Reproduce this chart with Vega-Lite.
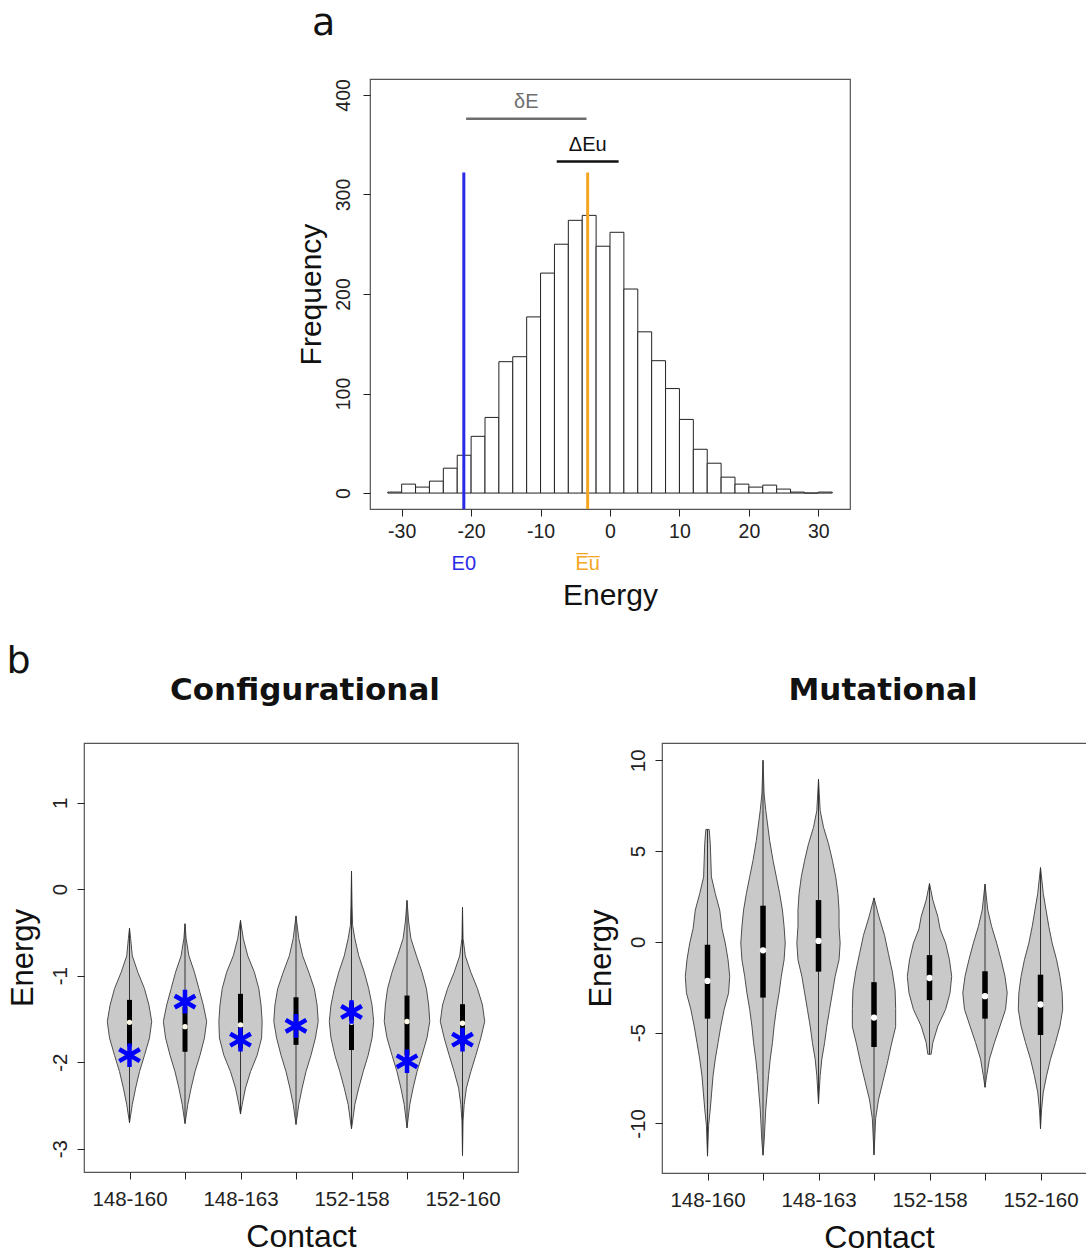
{
  "$schema": "https://vega.github.io/schema/vega-lite/v6.json",
  "background": "white",
  "padding": {"left": 6, "top": 4, "right": 0, "bottom": 0},
  "config": {
    "font": "Liberation Sans",
    "view": {"stroke": "#555", "strokeWidth": 1.2},
    "axis": {"grid": false, "domain": false, "tickColor": "#222", "tickSize": 7, "tickWidth": 1, "labelColor": "#222", "titleColor": "#111", "labelFont": "Liberation Sans", "titleFont": "Liberation Sans", "titleFontWeight": "normal", "labelOverlap": false, "labelFlush": false},
    "title": {"color": "#111"}
  },
  "datasets": {
    "hist": [
      {"lo": -32, "hi": -30, "count": 1}, {"lo": -30, "hi": -28, "count": 9}, {"lo": -28, "hi": -26, "count": 6}, {"lo": -26, "hi": -24, "count": 12},
      {"lo": -24, "hi": -22, "count": 25}, {"lo": -22, "hi": -20, "count": 38}, {"lo": -20, "hi": -18, "count": 57}, {"lo": -18, "hi": -16, "count": 76},
      {"lo": -16, "hi": -14, "count": 132}, {"lo": -14, "hi": -12, "count": 137}, {"lo": -12, "hi": -10, "count": 177}, {"lo": -10, "hi": -8, "count": 221},
      {"lo": -8, "hi": -6, "count": 250}, {"lo": -6, "hi": -4, "count": 274}, {"lo": -4, "hi": -2, "count": 279}, {"lo": -2, "hi": 0, "count": 248},
      {"lo": 0, "hi": 2, "count": 262}, {"lo": 2, "hi": 4, "count": 205}, {"lo": 4, "hi": 6, "count": 162}, {"lo": 6, "hi": 8, "count": 133},
      {"lo": 8, "hi": 10, "count": 105}, {"lo": 10, "hi": 12, "count": 74}, {"lo": 12, "hi": 14, "count": 44}, {"lo": 14, "hi": 16, "count": 30},
      {"lo": 16, "hi": 18, "count": 16}, {"lo": 18, "hi": 20, "count": 9}, {"lo": 20, "hi": 22, "count": 6}, {"lo": 22, "hi": 24, "count": 8},
      {"lo": 24, "hi": 26, "count": 4}, {"lo": 26, "hi": 28, "count": 1}, {"lo": 28, "hi": 30, "count": 0}, {"lo": 30, "hi": 32, "count": 1}
    ],
    "refs": [
      {"name": "E0", "label": "E0", "energy": -21.05},
      {"name": "Eu", "label": "E\u0305u\u0305", "energy": -3.22}
    ],
    "spans": [
      {"name": "δE", "from": -20.72, "to": -3.38, "level": 376},
      {"name": "ΔEu", "from": -7.67, "to": 1.24, "level": 333}
    ],
    "vcfg": [
      {"i": 1, "e": -0.45, "d": 0}, {"i": 1, "e": -0.57, "d": 0.02}, {"i": 1, "e": -0.77, "d": 0.05}, {"i": 1, "e": -0.96, "d": 0.15}, {"i": 1, "e": -1.15, "d": 0.27}, {"i": 1, "e": -1.34, "d": 0.35}, {"i": 1, "e": -1.53, "d": 0.40}, {"i": 1, "e": -1.72, "d": 0.36}, {"i": 1, "e": -1.92, "d": 0.27}, {"i": 1, "e": -2.11, "d": 0.18}, {"i": 1, "e": -2.30, "d": 0.11}, {"i": 1, "e": -2.49, "d": 0.05}, {"i": 1, "e": -2.70, "d": 0},
      {"i": 2, "e": -0.40, "d": 0}, {"i": 2, "e": -0.57, "d": 0.02}, {"i": 2, "e": -0.77, "d": 0.07}, {"i": 2, "e": -0.96, "d": 0.17}, {"i": 2, "e": -1.15, "d": 0.25}, {"i": 2, "e": -1.34, "d": 0.33}, {"i": 2, "e": -1.53, "d": 0.39}, {"i": 2, "e": -1.72, "d": 0.35}, {"i": 2, "e": -1.92, "d": 0.27}, {"i": 2, "e": -2.11, "d": 0.18}, {"i": 2, "e": -2.30, "d": 0.11}, {"i": 2, "e": -2.49, "d": 0.05}, {"i": 2, "e": -2.71, "d": 0},
      {"i": 3, "e": -0.36, "d": 0}, {"i": 3, "e": -0.57, "d": 0.05}, {"i": 3, "e": -0.77, "d": 0.13}, {"i": 3, "e": -0.96, "d": 0.25}, {"i": 3, "e": -1.15, "d": 0.33}, {"i": 3, "e": -1.34, "d": 0.37}, {"i": 3, "e": -1.53, "d": 0.39}, {"i": 3, "e": -1.72, "d": 0.38}, {"i": 3, "e": -1.92, "d": 0.30}, {"i": 3, "e": -2.11, "d": 0.18}, {"i": 3, "e": -2.30, "d": 0.09}, {"i": 3, "e": -2.49, "d": 0.03}, {"i": 3, "e": -2.60, "d": 0},
      {"i": 4, "e": -0.31, "d": 0}, {"i": 4, "e": -0.57, "d": 0.05}, {"i": 4, "e": -0.77, "d": 0.12}, {"i": 4, "e": -0.96, "d": 0.23}, {"i": 4, "e": -1.15, "d": 0.33}, {"i": 4, "e": -1.34, "d": 0.38}, {"i": 4, "e": -1.53, "d": 0.40}, {"i": 4, "e": -1.72, "d": 0.35}, {"i": 4, "e": -1.92, "d": 0.27}, {"i": 4, "e": -2.11, "d": 0.18}, {"i": 4, "e": -2.30, "d": 0.11}, {"i": 4, "e": -2.49, "d": 0.05}, {"i": 4, "e": -2.72, "d": 0},
      {"i": 5, "e": 0.21, "d": 0}, {"i": 5, "e": -0.19, "d": 0.01}, {"i": 5, "e": -0.42, "d": 0.02}, {"i": 5, "e": -0.57, "d": 0.06}, {"i": 5, "e": -0.77, "d": 0.13}, {"i": 5, "e": -0.96, "d": 0.23}, {"i": 5, "e": -1.15, "d": 0.31}, {"i": 5, "e": -1.34, "d": 0.37}, {"i": 5, "e": -1.53, "d": 0.40}, {"i": 5, "e": -1.72, "d": 0.37}, {"i": 5, "e": -1.92, "d": 0.30}, {"i": 5, "e": -2.11, "d": 0.21}, {"i": 5, "e": -2.30, "d": 0.13}, {"i": 5, "e": -2.49, "d": 0.06}, {"i": 5, "e": -2.68, "d": 0.02}, {"i": 5, "e": -2.77, "d": 0},
      {"i": 6, "e": -0.13, "d": 0}, {"i": 6, "e": -0.38, "d": 0.03}, {"i": 6, "e": -0.57, "d": 0.07}, {"i": 6, "e": -0.77, "d": 0.17}, {"i": 6, "e": -0.96, "d": 0.27}, {"i": 6, "e": -1.15, "d": 0.35}, {"i": 6, "e": -1.34, "d": 0.39}, {"i": 6, "e": -1.53, "d": 0.41}, {"i": 6, "e": -1.72, "d": 0.36}, {"i": 6, "e": -1.92, "d": 0.27}, {"i": 6, "e": -2.11, "d": 0.18}, {"i": 6, "e": -2.30, "d": 0.11}, {"i": 6, "e": -2.49, "d": 0.05}, {"i": 6, "e": -2.76, "d": 0},
      {"i": 7, "e": -0.21, "d": 0}, {"i": 7, "e": -0.57, "d": 0.01}, {"i": 7, "e": -0.77, "d": 0.05}, {"i": 7, "e": -0.96, "d": 0.15}, {"i": 7, "e": -1.15, "d": 0.27}, {"i": 7, "e": -1.34, "d": 0.36}, {"i": 7, "e": -1.53, "d": 0.40}, {"i": 7, "e": -1.72, "d": 0.33}, {"i": 7, "e": -1.92, "d": 0.24}, {"i": 7, "e": -2.11, "d": 0.15}, {"i": 7, "e": -2.30, "d": 0.07}, {"i": 7, "e": -2.49, "d": 0.03}, {"i": 7, "e": -2.68, "d": 0.01}, {"i": 7, "e": -3.08, "d": 0}
    ],
    "bcfg": [
      {"i": 1, "min": -2.70, "q1": -1.82, "med": -1.54, "q3": -1.28, "max": -0.45, "native": -1.92},
      {"i": 2, "min": -2.71, "q1": -1.88, "med": -1.59, "q3": -1.36, "max": -0.40, "native": -1.30},
      {"i": 3, "min": -2.60, "q1": -1.84, "med": -1.57, "q3": -1.21, "max": -0.36, "native": -1.74},
      {"i": 4, "min": -2.72, "q1": -1.80, "med": -1.57, "q3": -1.25, "max": -0.31, "native": -1.58},
      {"i": 5, "min": -2.77, "q1": -1.86, "med": -1.54, "q3": -1.31, "max": 0.21, "native": -1.42},
      {"i": 6, "min": -2.76, "q1": -1.92, "med": -1.53, "q3": -1.23, "max": -0.13, "native": -1.99},
      {"i": 7, "min": -3.08, "q1": -1.81, "med": -1.55, "q3": -1.33, "max": -0.21, "native": -1.74}
    ],
    "vmut": [
      {"i": 1, "e": 6.19, "d": 0.03}, {"i": 1, "e": 5.4, "d": 0.05}, {"i": 1, "e": 3.58, "d": 0.07}, {"i": 1, "e": 2.66, "d": 0.14}, {"i": 1, "e": 1.75, "d": 0.22}, {"i": 1, "e": 0.73, "d": 0.26}, {"i": 1, "e": -0.07, "d": 0.32}, {"i": 1, "e": -0.99, "d": 0.37}, {"i": 1, "e": -1.9, "d": 0.40}, {"i": 1, "e": -2.81, "d": 0.38}, {"i": 1, "e": -3.72, "d": 0.30}, {"i": 1, "e": -4.64, "d": 0.24}, {"i": 1, "e": -5.55, "d": 0.19}, {"i": 1, "e": -6.46, "d": 0.14}, {"i": 1, "e": -7.37, "d": 0.10}, {"i": 1, "e": -9.2, "d": 0.05}, {"i": 1, "e": -10.1, "d": 0.02}, {"i": 1, "e": -11.8, "d": 0},
      {"i": 2, "e": 10.0, "d": 0}, {"i": 2, "e": 8.14, "d": 0.02}, {"i": 2, "e": 7.23, "d": 0.05}, {"i": 2, "e": 5.58, "d": 0.12}, {"i": 2, "e": 4.49, "d": 0.18}, {"i": 2, "e": 3.58, "d": 0.24}, {"i": 2, "e": 2.66, "d": 0.30}, {"i": 2, "e": 1.75, "d": 0.35}, {"i": 2, "e": 0.84, "d": 0.38}, {"i": 2, "e": -0.07, "d": 0.40}, {"i": 2, "e": -0.99, "d": 0.38}, {"i": 2, "e": -1.9, "d": 0.33}, {"i": 2, "e": -2.81, "d": 0.29}, {"i": 2, "e": -3.72, "d": 0.24}, {"i": 2, "e": -4.64, "d": 0.20}, {"i": 2, "e": -5.55, "d": 0.17}, {"i": 2, "e": -6.46, "d": 0.13}, {"i": 2, "e": -7.37, "d": 0.10}, {"i": 2, "e": -9.2, "d": 0.05}, {"i": 2, "e": -11.0, "d": 0.02}, {"i": 2, "e": -11.75, "d": 0},
      {"i": 3, "e": 8.96, "d": 0}, {"i": 3, "e": 7.23, "d": 0.03}, {"i": 3, "e": 6.31, "d": 0.09}, {"i": 3, "e": 5.4, "d": 0.18}, {"i": 3, "e": 4.49, "d": 0.25}, {"i": 3, "e": 3.58, "d": 0.31}, {"i": 3, "e": 2.66, "d": 0.35}, {"i": 3, "e": 1.75, "d": 0.37}, {"i": 3, "e": 0.84, "d": 0.37}, {"i": 3, "e": -0.07, "d": 0.39}, {"i": 3, "e": -0.99, "d": 0.37}, {"i": 3, "e": -1.9, "d": 0.30}, {"i": 3, "e": -2.81, "d": 0.25}, {"i": 3, "e": -3.72, "d": 0.20}, {"i": 3, "e": -4.64, "d": 0.15}, {"i": 3, "e": -5.55, "d": 0.11}, {"i": 3, "e": -6.46, "d": 0.06}, {"i": 3, "e": -7.37, "d": 0.03}, {"i": 3, "e": -8.92, "d": 0},
      {"i": 4, "e": 2.42, "d": 0}, {"i": 4, "e": 1.37, "d": 0.09}, {"i": 4, "e": 0.36, "d": 0.19}, {"i": 4, "e": -0.65, "d": 0.26}, {"i": 4, "e": -1.65, "d": 0.33}, {"i": 4, "e": -2.66, "d": 0.38}, {"i": 4, "e": -3.67, "d": 0.39}, {"i": 4, "e": -4.68, "d": 0.39}, {"i": 4, "e": -5.69, "d": 0.31}, {"i": 4, "e": -6.69, "d": 0.24}, {"i": 4, "e": -7.7, "d": 0.16}, {"i": 4, "e": -8.71, "d": 0.08}, {"i": 4, "e": -9.72, "d": 0.03}, {"i": 4, "e": -11.73, "d": 0},
      {"i": 5, "e": 3.21, "d": 0}, {"i": 5, "e": 2.3, "d": 0.06}, {"i": 5, "e": 1.39, "d": 0.15}, {"i": 5, "e": 0.71, "d": 0.19}, {"i": 5, "e": -0.07, "d": 0.29}, {"i": 5, "e": -0.99, "d": 0.36}, {"i": 5, "e": -1.9, "d": 0.40}, {"i": 5, "e": -2.81, "d": 0.37}, {"i": 5, "e": -3.72, "d": 0.29}, {"i": 5, "e": -4.64, "d": 0.15}, {"i": 5, "e": -5.55, "d": 0.06}, {"i": 5, "e": -6.19, "d": 0.03},
      {"i": 6, "e": 3.18, "d": 0}, {"i": 6, "e": 1.75, "d": 0.05}, {"i": 6, "e": 0.84, "d": 0.12}, {"i": 6, "e": -0.07, "d": 0.21}, {"i": 6, "e": -0.99, "d": 0.29}, {"i": 6, "e": -1.9, "d": 0.36}, {"i": 6, "e": -2.81, "d": 0.40}, {"i": 6, "e": -3.72, "d": 0.37}, {"i": 6, "e": -4.64, "d": 0.27}, {"i": 6, "e": -5.55, "d": 0.17}, {"i": 6, "e": -6.46, "d": 0.08}, {"i": 6, "e": -7.37, "d": 0.03}, {"i": 6, "e": -8.01, "d": 0},
      {"i": 7, "e": 4.09, "d": 0}, {"i": 7, "e": 2.66, "d": 0.05}, {"i": 7, "e": 0.84, "d": 0.15}, {"i": 7, "e": -0.07, "d": 0.21}, {"i": 7, "e": -0.99, "d": 0.29}, {"i": 7, "e": -1.9, "d": 0.35}, {"i": 7, "e": -2.81, "d": 0.39}, {"i": 7, "e": -3.72, "d": 0.40}, {"i": 7, "e": -4.64, "d": 0.35}, {"i": 7, "e": -5.55, "d": 0.27}, {"i": 7, "e": -6.46, "d": 0.18}, {"i": 7, "e": -7.37, "d": 0.11}, {"i": 7, "e": -8.28, "d": 0.05}, {"i": 7, "e": -9.2, "d": 0.02}, {"i": 7, "e": -10.29, "d": 0}
    ],
    "bmut": [
      {"i": 1, "min": -11.8, "q1": -4.23, "med": -2.15, "q3": -0.16, "max": 6.19},
      {"i": 2, "min": -11.75, "q1": -3.07, "med": -0.47, "q3": 1.99, "max": 10.0},
      {"i": 3, "min": -8.92, "q1": -1.64, "med": 0.05, "q3": 2.3, "max": 8.96},
      {"i": 4, "min": -11.73, "q1": -5.79, "med": -4.17, "q3": -2.22, "max": 2.42},
      {"i": 5, "min": -6.19, "q1": -3.21, "med": -1.99, "q3": -0.73, "max": 3.21},
      {"i": 6, "min": -8.01, "q1": -4.23, "med": -2.99, "q3": -1.62, "max": 3.18},
      {"i": 7, "min": -10.29, "q1": -5.13, "med": -3.45, "q3": -1.81, "max": 4.09}
    ]
  },
  "spacing": 31,
  "vconcat": [
    {
      "spacing": 0,
      "hconcat": [
        {
          "width": 211, "height": 430,
          "view": {"stroke": null},
          "data": {"values": [{}]},
          "mark": {"type": "point", "opacity": 0},
          "encoding": {}
        },
        {
          "width": 480, "height": 430,
          "title": {"text": "a", "anchor": "start", "frame": "group", "dx": -58, "fontSize": 38, "font": "DejaVu Sans", "fontWeight": "normal", "baseline": "alphabetic", "offset": 6},
          "layer": [
            {
              "data": {"name": "hist"},
              "mark": {"type": "bar", "fill": "white", "stroke": "#222", "strokeWidth": 1},
              "encoding": {
                "x": {"field": "lo", "type": "quantitative", "scale": {"domain": [-34.56, 34.56], "nice": false, "zero": false},
                      "axis": {"values": [-30, -20, -10, 0, 10, 20, 30], "labelExpr": "'' + datum.value", "title": "Energy", "titleFontSize": 30, "titlePadding": 40, "labelFontSize": 19.5, "labelPadding": 6}},
                "x2": {"field": "hi"},
                "y": {"field": "count", "type": "quantitative", "scale": {"domain": [-16, 416], "nice": false, "zero": false},
                      "axis": {"values": [0, 100, 200, 300, 400], "title": "Frequency", "titleFontSize": 30, "titlePadding": 7, "labelFontSize": 19.5, "labelPadding": 10, "labelAngle": -90, "labelAlign": "center", "labelBaseline": "bottom"}},
                "y2": {"datum": 0}
              }
            },
            {
              "data": {"name": "refs"},
              "mark": {"type": "rule", "strokeWidth": 3},
              "encoding": {
                "x": {"field": "energy", "type": "quantitative", "title": "Energy"},
                "y": {"datum": -16},
                "y2": {"datum": 322},
                "color": {"field": "name", "type": "nominal", "legend": null, "scale": {"domain": ["E0", "Eu", "δE", "ΔEu"], "range": ["#2a2ae6", "#f5a623", "#6e6e6e", "#111111"]}}
              }
            },
            {
              "data": {"name": "refs"},
              "mark": {"type": "text", "fontSize": 20, "baseline": "middle", "font": "Liberation Sans"},
              "encoding": {
                "x": {"field": "energy", "type": "quantitative", "title": "Energy"},
                "y": {"datum": -71},
                "text": {"field": "label"},
                "color": {"field": "name", "type": "nominal", "legend": null, "scale": {"domain": ["E0", "Eu", "δE", "ΔEu"], "range": ["#2a2ae6", "#f5a623", "#6e6e6e", "#111111"]}}
              }
            },
            {
              "data": {"name": "spans"},
              "mark": {"type": "rule", "strokeWidth": 2.5},
              "encoding": {
                "x": {"field": "from", "type": "quantitative", "title": "Energy"},
                "x2": {"field": "to"},
                "y": {"field": "level", "type": "quantitative", "title": "Frequency"},
                "color": {"field": "name", "type": "nominal", "legend": null, "scale": {"domain": ["E0", "Eu", "δE", "ΔEu"], "range": ["#2a2ae6", "#f5a623", "#6e6e6e", "#111111"]}}
              }
            },
            {
              "data": {"name": "spans"},
              "transform": [{"calculate": "(datum.from + datum.to) / 2", "as": "mid"}],
              "mark": {"type": "text", "fontSize": 20, "baseline": "middle", "dy": -17, "font": "Liberation Sans"},
              "encoding": {
                "x": {"field": "mid", "type": "quantitative", "title": "Energy"},
                "y": {"field": "level", "type": "quantitative", "title": "Frequency"},
                "text": {"field": "name"},
                "color": {"field": "name", "type": "nominal", "legend": null, "scale": {"domain": ["E0", "Eu", "δE", "ΔEu"], "range": ["#2a2ae6", "#f5a623", "#6e6e6e", "#111111"]}}
              }
            }
          ]
        }
      ]
    },
    {
      "spacing": 65,
      "title": {"text": "b", "anchor": "start", "fontSize": 38, "font": "DejaVu Sans", "fontWeight": "normal", "baseline": "alphabetic", "offset": -37},
      "hconcat": [
        {
          "width": 434, "height": 429,
          "title": {"text": "Configurational", "fontSize": 31, "font": "DejaVu Sans", "fontWeight": "bold", "baseline": "alphabetic", "offset": 12, "dx": 4},
          "layer": [
            {
              "data": {"name": "vcfg"},
              "transform": [{"calculate": "datum.i - datum.d", "as": "left"}, {"calculate": "datum.i + datum.d", "as": "right"}],
              "mark": {"type": "area", "orient": "horizontal", "fill": "#c9c9c9", "stroke": "#4d4d4d", "strokeWidth": 1},
              "encoding": {
                "y": {"field": "e", "type": "quantitative", "scale": {"domain": [-3.27, 1.69], "nice": false, "zero": false},
                      "axis": {"values": [-3, -2, -1, 0, 1], "labelExpr": "'' + datum.value", "title": "Energy", "titleFontSize": 31, "titlePadding": 11, "labelFontSize": 20.5, "labelPadding": 7, "labelAngle": -90, "labelAlign": "center", "labelBaseline": "bottom"}},
                "x": {"field": "left", "type": "quantitative", "scale": {"domain": [0.18, 8.0], "nice": false, "zero": false},
                      "axis": {"values": [1, 2, 3, 4, 5, 6, 7], "labelExpr": "datum.value == 1 ? '148-160' : datum.value == 3 ? '148-163' : datum.value == 5 ? '152-158' : datum.value == 7 ? '152-160' : ''", "title": "Contact", "titleFontSize": 32, "titlePadding": 12, "labelFontSize": 20.5, "labelPadding": 10}},
                "x2": {"field": "right"},
                "detail": {"field": "i", "type": "nominal"}
              }
            },
            {
              "data": {"name": "bcfg"},
              "mark": {"type": "rule", "color": "#333", "strokeWidth": 1},
              "encoding": {"x": {"field": "i", "type": "quantitative", "title": "Contact"}, "y": {"field": "min", "type": "quantitative", "title": "Energy"}, "y2": {"field": "max"}}
            },
            {
              "data": {"name": "bcfg"},
              "mark": {"type": "rule", "color": "#000", "strokeWidth": 5},
              "encoding": {"x": {"field": "i", "type": "quantitative", "title": "Contact"}, "y": {"field": "q1", "type": "quantitative", "title": "Energy"}, "y2": {"field": "q3"}}
            },
            {
              "data": {"name": "bcfg"},
              "mark": {"type": "point", "filled": true, "color": "#fffbe8", "opacity": 1, "size": 28},
              "encoding": {"x": {"field": "i", "type": "quantitative", "title": "Contact"}, "y": {"field": "med", "type": "quantitative", "title": "Energy"}}
            },
            {
              "mark": {"type": "rule", "color": "#e2b43c", "strokeWidth": 2.5, "strokeDash": [6, 5]},
              "encoding": {"y": {"datum": -1.58}}
            },
            {
              "data": {"name": "bcfg"},
              "mark": {"type": "point", "filled": false, "shape": "M0,-1L0,1M-0.87,-0.5L0.87,0.5M-0.87,0.5L0.87,-0.5", "stroke": "#0000ff", "strokeWidth": 4.5, "size": 560, "opacity": 1},
              "encoding": {"x": {"field": "i", "type": "quantitative", "title": "Contact"}, "y": {"field": "native", "type": "quantitative", "title": "Energy"}}
            }
          ]
        },
        {
          "width": 434, "height": 430,
          "title": {"text": "Mutational", "fontSize": 31, "font": "DejaVu Sans", "fontWeight": "bold", "baseline": "alphabetic", "offset": 12, "dx": 4},
          "layer": [
            {
              "data": {"name": "vmut"},
              "transform": [{"calculate": "datum.i - datum.d", "as": "left"}, {"calculate": "datum.i + datum.d", "as": "right"}],
              "mark": {"type": "area", "orient": "horizontal", "fill": "#c9c9c9", "stroke": "#4d4d4d", "strokeWidth": 1},
              "encoding": {
                "y": {"field": "e", "type": "quantitative", "scale": {"domain": [-12.73, 10.95], "nice": false, "zero": false},
                      "axis": {"values": [-10, -5, 0, 5, 10], "labelExpr": "'' + datum.value", "title": "Energy", "titleFontSize": 31, "titlePadding": 11, "labelFontSize": 20.5, "labelPadding": 7, "labelAngle": -90, "labelAlign": "center", "labelBaseline": "bottom"}},
                "x": {"field": "left", "type": "quantitative", "scale": {"domain": [0.18, 8.0], "nice": false, "zero": false},
                      "axis": {"values": [1, 2, 3, 4, 5, 6, 7], "labelExpr": "datum.value == 1 ? '148-160' : datum.value == 3 ? '148-163' : datum.value == 5 ? '152-158' : datum.value == 7 ? '152-160' : ''", "title": "Contact", "titleFontSize": 32, "titlePadding": 12, "labelFontSize": 20.5, "labelPadding": 10}},
                "x2": {"field": "right"},
                "detail": {"field": "i", "type": "nominal"}
              }
            },
            {
              "data": {"name": "bmut"},
              "mark": {"type": "rule", "color": "#333", "strokeWidth": 1},
              "encoding": {"x": {"field": "i", "type": "quantitative", "title": "Contact"}, "y": {"field": "min", "type": "quantitative", "title": "Energy"}, "y2": {"field": "max"}}
            },
            {
              "data": {"name": "bmut"},
              "mark": {"type": "rule", "color": "#000", "strokeWidth": 5.5},
              "encoding": {"x": {"field": "i", "type": "quantitative", "title": "Contact"}, "y": {"field": "q1", "type": "quantitative", "title": "Energy"}, "y2": {"field": "q3"}}
            },
            {
              "data": {"name": "bmut"},
              "mark": {"type": "point", "filled": true, "color": "#ffffff", "opacity": 1, "size": 40},
              "encoding": {"x": {"field": "i", "type": "quantitative", "title": "Contact"}, "y": {"field": "med", "type": "quantitative", "title": "Energy"}}
            }
          ]
        }
      ]
    }
  ]
}
